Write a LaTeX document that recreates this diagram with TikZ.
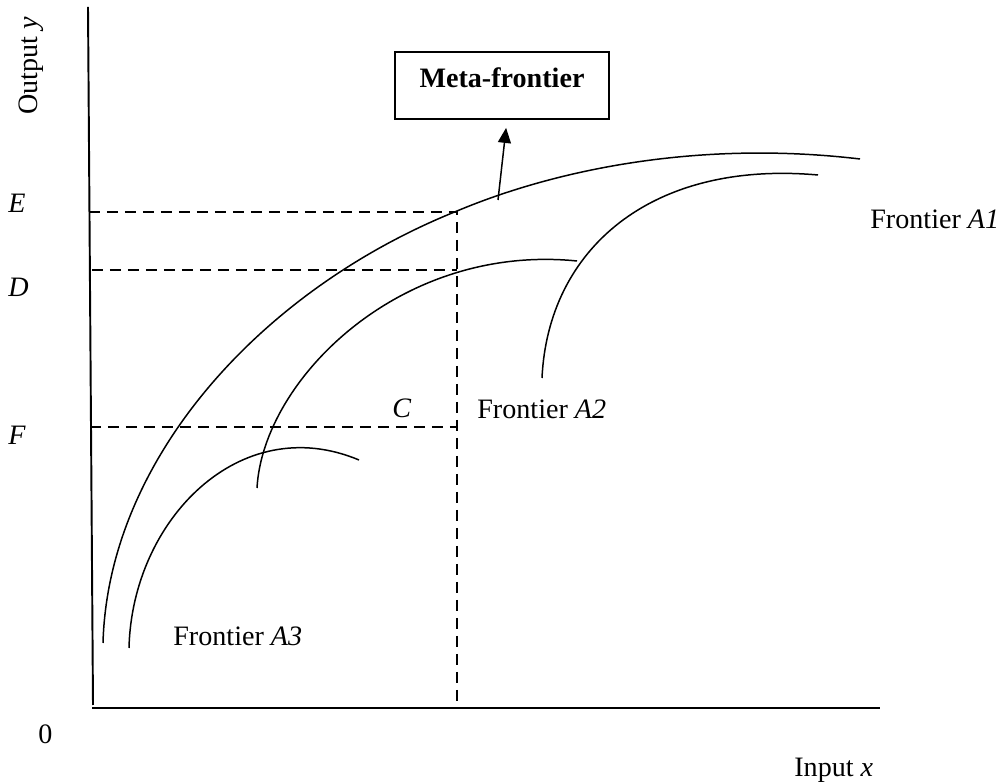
\documentclass[tikz,border=0pt]{standalone}
\usepackage{fontspec}
\setmainfont{Liberation Serif}
\usepackage{tikz}
\usetikzlibrary{positioning, arrows.meta}

\begin{document}
\begin{tikzpicture}[x=0.02cm, y=-0.02cm,
  lbl/.style={font=\fontsize{16}{19}\selectfont, inner sep=0pt, anchor=base west},
  ax/.style={line width=1.1pt},
  guide/.style={line width=1.1pt, dash pattern=on 0.22cm off 0.14cm},
  fr/.style={line width=0.85pt},
  mfbox/.style={draw, line width=1.1pt, font=\fontsize{16}{19}\selectfont\bfseries,
    inner sep=0pt, minimum width=4.28cm, text height=0.72cm, text depth=0.62cm, anchor=base}]
\useasboundingbox (0,0) rectangle (1005,783);
% axes
\coordinate (ytop) at (88,7);
\coordinate (ybot) at (93,705);
\coordinate (xbeg) at (92,708);
\coordinate (xend) at (880,708);
\draw[ax] (ytop) -- (ybot);
\draw[ax] (xbeg) -- (xend);
\node[lbl, rotate=90] (ylab) at (37,115) {Output \textit{y}};
\node[lbl] (xlab) at (794,777) {Input \textit{x}};
\node[lbl] (orig) at (38,744) {0};
% guide lines
\coordinate (e0) at (89,212);
\coordinate (d0) at (92,270);
\coordinate (f0) at (90,427);
\coordinate (e1) at (457,212);
\coordinate (d1) at (457,270);
\coordinate (f1) at (457,427);
\coordinate (x1) at (457,708);
\draw[guide] (e0) -- (e1) -- (x1);
\draw[guide] (d0) -- (d1);
\draw[guide] (f0) -- (f1);
\node[lbl] (le) at (8,213) {\textit{E}};
\node[lbl] (ld) at (8,297) {\textit{D}};
\node[lbl] (lf) at (8,445) {\textit{F}};
\node[lbl] (lc) at (392,418) {\textit{C}};
% frontiers
\draw[fr] (103,643) .. controls (108,460) and (260,290) .. (457,211)
  .. controls (557,169) and (700,140) .. (860,159);
\draw[fr] (542,378) .. controls (548,250) and (650,160) .. (818,175);
\draw[fr] (257,488) .. controls (263,380) and (400,243) .. (577,261);
\draw[fr] (129,648) .. controls (132,520) and (240,410) .. (359,460);
\node[lbl] (a1) at (870,229) {Frontier \textit{A1}};
\node[lbl] (a2) at (477,419) {Frontier \textit{A2}};
\node[lbl] (a3) at (173,646) {Frontier \textit{A3}};
% meta-frontier label
\node[mfbox] (mf) at (502,88) {Meta-frontier};
\coordinate (mfbase) at (498,200);
\draw[fr, -{Triangle[length=0.3cm, width=0.26cm]}, shorten >=0.16cm] (mfbase) -- ([xshift=0.1cm]mf.south);
\end{tikzpicture}
\end{document}
